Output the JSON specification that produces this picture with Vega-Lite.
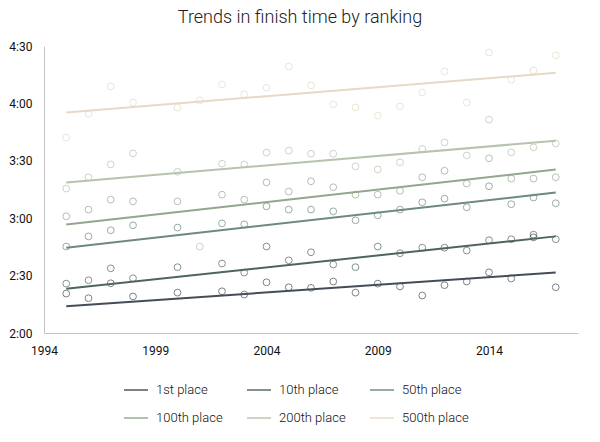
{
  "$schema": "https://vega.github.io/schema/vega-lite/v6.json",
  "autosize": "none",
  "width": 534,
  "height": 287,
  "padding": {"left": 44, "top": 46, "right": 22, "bottom": 109},
  "title": {"text": "Trends in finish time by ranking", "anchor": "middle", "dx": -11, "offset": 13, "font": "Roboto", "fontSize": 18, "fontWeight": 300, "color": "#222"},
  "config": {
    "view": {"stroke": null},
    "font": "Roboto"
  },
  "datasets": {
    "points": [
      {"year":1995,"place":"500th place","minutes":222.1},{"year":1996,"place":"500th place","minutes":234.6},{"year":1997,"place":"500th place","minutes":248.9},{"year":1998,"place":"500th place","minutes":240.5},{"year":2000,"place":"500th place","minutes":237.8},{"year":2001,"place":"500th place","minutes":241.6},{"year":2002,"place":"500th place","minutes":249.9},{"year":2003,"place":"500th place","minutes":244.7},{"year":2004,"place":"500th place","minutes":248.2},{"year":2005,"place":"500th place","minutes":259.3},{"year":2006,"place":"500th place","minutes":249.4},{"year":2007,"place":"500th place","minutes":239.5},{"year":2008,"place":"500th place","minutes":237.9},{"year":2009,"place":"500th place","minutes":233.6},{"year":2010,"place":"500th place","minutes":238.4},{"year":2011,"place":"500th place","minutes":245.7},{"year":2012,"place":"500th place","minutes":256.7},{"year":2013,"place":"500th place","minutes":240.5},{"year":2014,"place":"500th place","minutes":266.6},{"year":2015,"place":"500th place","minutes":252.4},{"year":2016,"place":"500th place","minutes":257.2},{"year":2017,"place":"500th place","minutes":265.1},
      {"year":1995,"place":"200th place","minutes":195.5},{"year":1996,"place":"200th place","minutes":201.4},{"year":1997,"place":"200th place","minutes":208.1},{"year":1998,"place":"200th place","minutes":213.9},{"year":2000,"place":"200th place","minutes":204.3},{"year":2001,"place":"200th place","minutes":165.2},{"year":2002,"place":"200th place","minutes":208.5},{"year":2003,"place":"200th place","minutes":208.1},{"year":2004,"place":"200th place","minutes":214.3},{"year":2005,"place":"200th place","minutes":215.3},{"year":2006,"place":"200th place","minutes":213.7},{"year":2007,"place":"200th place","minutes":213.7},{"year":2008,"place":"200th place","minutes":207.1},{"year":2009,"place":"200th place","minutes":205.5},{"year":2010,"place":"200th place","minutes":209.2},{"year":2011,"place":"200th place","minutes":216.2},{"year":2012,"place":"200th place","minutes":219.6},{"year":2013,"place":"200th place","minutes":212.8},{"year":2014,"place":"200th place","minutes":231.5},{"year":2015,"place":"200th place","minutes":214.4},{"year":2016,"place":"200th place","minutes":217.0},{"year":2017,"place":"200th place","minutes":219.0},
      {"year":1995,"place":"100th place","minutes":181.0},{"year":1996,"place":"100th place","minutes":184.5},{"year":1997,"place":"100th place","minutes":189.7},{"year":1998,"place":"100th place","minutes":188.8},{"year":2000,"place":"100th place","minutes":188.8},{"year":2002,"place":"100th place","minutes":192.3},{"year":2003,"place":"100th place","minutes":189.7},{"year":2004,"place":"100th place","minutes":198.7},{"year":2005,"place":"100th place","minutes":193.9},{"year":2006,"place":"100th place","minutes":199.3},{"year":2007,"place":"100th place","minutes":196.2},{"year":2008,"place":"100th place","minutes":192.3},{"year":2009,"place":"100th place","minutes":192.3},{"year":2010,"place":"100th place","minutes":194.3},{"year":2011,"place":"100th place","minutes":201.4},{"year":2012,"place":"100th place","minutes":204.8},{"year":2013,"place":"100th place","minutes":198.1},{"year":2014,"place":"100th place","minutes":211.3},{"year":2015,"place":"100th place","minutes":200.7},{"year":2016,"place":"100th place","minutes":200.7},{"year":2017,"place":"100th place","minutes":201.4},
      {"year":1995,"place":"50th place","minutes":165.2},{"year":1996,"place":"50th place","minutes":170.5},{"year":1997,"place":"50th place","minutes":173.7},{"year":1998,"place":"50th place","minutes":176.3},{"year":2000,"place":"50th place","minutes":175.1},{"year":2002,"place":"50th place","minutes":177.3},{"year":2003,"place":"50th place","minutes":176.8},{"year":2004,"place":"50th place","minutes":186.2},{"year":2005,"place":"50th place","minutes":184.5},{"year":2006,"place":"50th place","minutes":184.5},{"year":2007,"place":"50th place","minutes":183.6},{"year":2008,"place":"50th place","minutes":178.9},{"year":2009,"place":"50th place","minutes":181.5},{"year":2010,"place":"50th place","minutes":184.5},{"year":2011,"place":"50th place","minutes":188.3},{"year":2012,"place":"50th place","minutes":190.2},{"year":2013,"place":"50th place","minutes":185.7},{"year":2014,"place":"50th place","minutes":196.7},{"year":2015,"place":"50th place","minutes":187.3},{"year":2016,"place":"50th place","minutes":190.8},{"year":2017,"place":"50th place","minutes":187.8},
      {"year":1995,"place":"10th place","minutes":145.8},{"year":1996,"place":"10th place","minutes":147.6},{"year":1997,"place":"10th place","minutes":153.8},{"year":1998,"place":"10th place","minutes":148.6},{"year":2000,"place":"10th place","minutes":154.4},{"year":2002,"place":"10th place","minutes":156.3},{"year":2003,"place":"10th place","minutes":151.6},{"year":2004,"place":"10th place","minutes":165.2},{"year":2005,"place":"10th place","minutes":158.0},{"year":2006,"place":"10th place","minutes":162.2},{"year":2007,"place":"10th place","minutes":155.8},{"year":2008,"place":"10th place","minutes":154.4},{"year":2009,"place":"10th place","minutes":165.2},{"year":2010,"place":"10th place","minutes":161.7},{"year":2011,"place":"10th place","minutes":164.6},{"year":2012,"place":"10th place","minutes":164.6},{"year":2013,"place":"10th place","minutes":163.1},{"year":2014,"place":"10th place","minutes":168.5},{"year":2015,"place":"10th place","minutes":169.0},{"year":2016,"place":"10th place","minutes":171.4},{"year":2017,"place":"10th place","minutes":169.0},
      {"year":1995,"place":"1st place","minutes":140.6},{"year":1996,"place":"1st place","minutes":138.2},{"year":1997,"place":"1st place","minutes":146.0},{"year":1998,"place":"1st place","minutes":139.1},{"year":2000,"place":"1st place","minutes":141.1},{"year":2002,"place":"1st place","minutes":141.8},{"year":2003,"place":"1st place","minutes":140.1},{"year":2004,"place":"1st place","minutes":146.5},{"year":2005,"place":"1st place","minutes":143.9},{"year":2006,"place":"1st place","minutes":143.6},{"year":2007,"place":"1st place","minutes":146.9},{"year":2008,"place":"1st place","minutes":141.1},{"year":2009,"place":"1st place","minutes":145.8},{"year":2010,"place":"1st place","minutes":144.3},{"year":2011,"place":"1st place","minutes":139.6},{"year":2012,"place":"1st place","minutes":145.0},{"year":2013,"place":"1st place","minutes":146.9},{"year":2014,"place":"1st place","minutes":151.7},{"year":2015,"place":"1st place","minutes":148.5},{"year":2016,"place":"1st place","minutes":170.0},{"year":2017,"place":"1st place","minutes":143.9}
    ],
    "trends": [
      {"year":1995,"place":"500th place","minutes":235.3},{"year":2017,"place":"500th place","minutes":256.0},
      {"year":1995,"place":"200th place","minutes":198.6},{"year":2017,"place":"200th place","minutes":220.5},
      {"year":1995,"place":"100th place","minutes":176.7},{"year":2017,"place":"100th place","minutes":205.4},
      {"year":1995,"place":"50th place","minutes":164.6},{"year":2017,"place":"50th place","minutes":193.4},
      {"year":1995,"place":"10th place","minutes":143.1},{"year":2017,"place":"10th place","minutes":170.5},
      {"year":1995,"place":"1st place","minutes":134.0},{"year":2017,"place":"1st place","minutes":151.6}
    ]
  },
  "encoding": {
    "x": {"field": "year", "type": "quantitative",
      "scale": {"domain": [1994, 2018], "nice": false, "zero": false},
      "axis": {"title": null, "values": [1994, 1999, 2004, 2009, 2014], "format": "d", "grid": false, "ticks": false, "tickSize": 0, "labelPadding": 12, "labelFontSize": 12, "labelColor": "#111", "labelFont": "Roboto", "domainColor": "#c4c4c4", "labelFlush": false}},
    "y": {"field": "minutes", "type": "quantitative",
      "scale": {"domain": [120, 270], "nice": false, "zero": false},
      "axis": {"title": null, "values": [120, 150, 180, 210, 240, 270], "labelExpr": "floor(datum.value/60) + ':' + (datum.value % 60 == 0 ? '00' : datum.value % 60)", "grid": false, "ticks": false, "tickSize": 0, "labelPadding": 12, "labelFontSize": 12, "labelColor": "#111", "labelFont": "Roboto", "domainColor": "#c4c4c4", "labelFlush": false}},
    "color": {"field": "place", "type": "nominal",
      "scale": {"domain": ["1st place", "10th place", "50th place", "100th place", "200th place", "500th place"],
                "range": ["#444d55", "#4e6659", "#6e8a7c", "#92a78e", "#b6c3ae", "#e6d9c7"]},
      "legend": {"title": null, "orient": "none", "legendX": 79, "legendY": 331, "direction": "horizontal", "columns": 3, "symbolType": "stroke", "symbolSize": 576, "symbolStrokeWidth": 2, "labelFontSize": 13, "labelFont": "Roboto", "labelFontWeight": 300, "labelColor": "#111", "labelOffset": 7, "columnPadding": 20, "rowPadding": 8, "padding": 0}}
  },
  "layer": [
    {"data": {"name": "points"}, "mark": {"type": "point", "shape": "circle", "filled": false, "size": 46, "strokeWidth": 1}},
    {"data": {"name": "trends"}, "mark": {"type": "line", "strokeWidth": 2}, "encoding": {"detail": {"field": "place"}}}
  ]
}
